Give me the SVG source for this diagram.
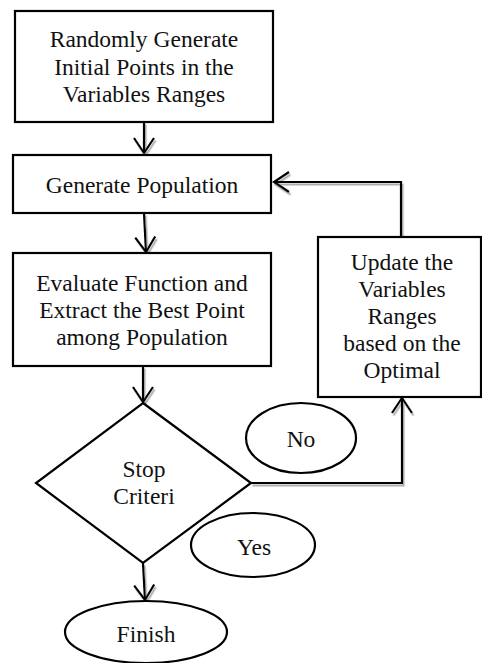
<svg xmlns="http://www.w3.org/2000/svg" width="482" height="663" viewBox="0 0 482 663">
<defs>
<style>
.box{fill:#fff;stroke:#000;stroke-width:2.2}
.t{font-family:'Liberation Serif','Times New Roman',serif;font-size:23.5px;fill:#111;text-anchor:middle}
.c{fill:none;stroke:#000;stroke-width:2.2}
</style>
<filter id="sh" x="-10%" y="-10%" width="120%" height="120%">
<feDropShadow dx="1.5" dy="2.5" stdDeviation="0.6" flood-color="#9a9a9a" flood-opacity="0.8"/>
</filter>
<marker id="ah" markerWidth="20" markerHeight="24" refX="17" refY="12" orient="auto" markerUnits="userSpaceOnUse">
<path d="M2,2 L17,12 L2,22" fill="none" stroke="#000" stroke-width="2.2"/>
</marker>
</defs>
<rect width="482" height="663" fill="#fff"/>
<g id="connectors" filter="url(#sh)">
<path class="c" d="M144,122 V153" marker-end="url(#ah)"/>
<path class="c" d="M144,213 L146,252" marker-end="url(#ah)"/>
<path class="c" d="M143,366 V402" marker-end="url(#ah)"/>
<path class="c" d="M401,237 V182 H274" marker-end="url(#ah)"/>
<path class="c" d="M251,483 H402 V398" marker-end="url(#ah)"/>
<path class="c" d="M143,563 L145,600" marker-end="url(#ah)"/>
</g>
<g id="n1"><rect class="box" x="15" y="11" width="258" height="111"/>
<text class="t" x="144" y="47">Randomly Generate</text>
<text class="t" x="144" y="75">Initial Points in the</text>
<text class="t" x="144" y="102">Variables Ranges</text></g>
<g id="n2"><rect class="box" x="13" y="155" width="258" height="58"/>
<text class="t" x="142" y="193">Generate Population</text></g>
<g id="n3"><rect class="box" x="13" y="253" width="258" height="113"/>
<text class="t" x="142" y="291">Evaluate Function and</text>
<text class="t" x="142" y="318">Extract the Best Point</text>
<text class="t" x="142" y="345">among Population</text></g>
<g id="n4"><rect class="box" x="318" y="237" width="163" height="160"/>
<text class="t" x="402" y="270">Update the</text>
<text class="t" x="402" y="297">Variables</text>
<text class="t" x="402" y="324">Ranges</text>
<text class="t" x="402" y="351">based on the</text>
<text class="t" x="402" y="378">Optimal</text></g>
<g id="n5"><polygon class="box" points="143,403 251,483 143,563 36,483"/>
<text class="t" x="144" y="477">Stop</text>
<text class="t" x="144" y="504">Criteri</text></g>
<g id="no"><ellipse class="box" cx="301" cy="438" rx="55" ry="35"/>
<text class="t" x="301" y="447">No</text></g>
<g id="yes"><ellipse class="box" cx="253" cy="545" rx="62" ry="32"/>
<text class="t" x="254" y="555">Yes</text></g>
<g id="finish"><ellipse class="box" cx="146" cy="632" rx="81" ry="31"/>
<text class="t" x="146" y="642">Finish</text></g>
</svg>
